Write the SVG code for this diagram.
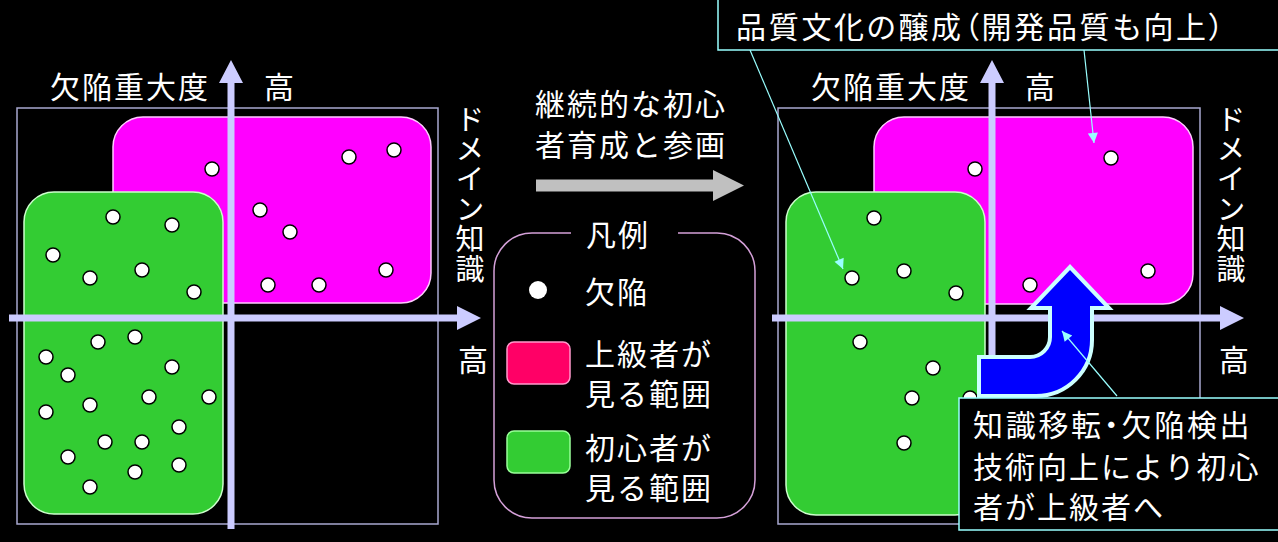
<svg xmlns="http://www.w3.org/2000/svg" width="1278" height="542" viewBox="0 0 1278 542">
<defs>
<style>
.t{font-family:"Noto Sans CJK JP","Noto Sans CJK SC",sans-serif;font-size:30px;fill:#ffffff;letter-spacing:2px}
.p{font-feature-settings:"palt" 1;letter-spacing:2.7px}
.tv{font-family:"Noto Sans CJK JP","Noto Sans CJK SC",sans-serif;font-size:29px;fill:#ffffff;writing-mode:vertical-rl;letter-spacing:1px}
.tc{font-family:"Noto Sans CJK JP","Noto Sans CJK SC",sans-serif;font-size:30px;fill:#ffffff;text-anchor:middle}
.frame{fill:none;stroke:#a8a8d0;stroke-width:1.5}
.axis{fill:#ccccff;stroke:none}
.mag{fill:#ff00ff;stroke:#ffccff;stroke-width:1.5}
.grn{fill:#33cc33;stroke:#ccffcc;stroke-width:1.5}
.dot{fill:#ffffff;stroke:#000000;stroke-width:1.5}
.call{fill:#000000;stroke:#99ffff;stroke-width:1.5}
.conn{stroke:#99ffff;stroke-width:1.2;fill:none}
</style>
<marker id="ah" viewBox="0 0 10 10" refX="10" refY="5" markerWidth="12" markerHeight="10" markerUnits="userSpaceOnUse" orient="auto">
<path d="M0,0 L10,5 L0,10 Z" fill="#99ffff"/>
</marker>
</defs>
<rect width="1278" height="542" fill="#000000"/>

<!-- LEFT PANEL -->
<g id="left-panel">
<rect class="frame" x="17" y="108" width="421" height="416"/>
<rect id="left-senior" class="mag" x="113" y="117" width="318" height="186" rx="30"/>
<rect id="left-novice" class="grn" x="24" y="192" width="199" height="322" rx="30"/>
<g id="left-defects">
<circle class="dot" cx="212" cy="169" r="7"/>
<circle class="dot" cx="349" cy="157" r="7"/>
<circle class="dot" cx="394" cy="150" r="7"/>
<circle class="dot" cx="260" cy="210" r="7"/>
<circle class="dot" cx="290" cy="232" r="7"/>
<circle class="dot" cx="386" cy="270" r="7"/>
<circle class="dot" cx="268" cy="285" r="7"/>
<circle class="dot" cx="319" cy="285" r="7"/>
<circle class="dot" cx="113" cy="217" r="7"/>
<circle class="dot" cx="172" cy="225" r="7"/>
<circle class="dot" cx="53" cy="255" r="7"/>
<circle class="dot" cx="90" cy="278" r="7"/>
<circle class="dot" cx="142" cy="270" r="7"/>
<circle class="dot" cx="194" cy="292" r="7"/>
<circle class="dot" cx="98" cy="342" r="7"/>
<circle class="dot" cx="135" cy="337" r="7"/>
<circle class="dot" cx="46" cy="357" r="7"/>
<circle class="dot" cx="68" cy="375" r="7"/>
<circle class="dot" cx="172" cy="367" r="7"/>
<circle class="dot" cx="149" cy="397" r="7"/>
<circle class="dot" cx="209" cy="397" r="7"/>
<circle class="dot" cx="90" cy="405" r="7"/>
<circle class="dot" cx="46" cy="412" r="7"/>
<circle class="dot" cx="179" cy="427" r="7"/>
<circle class="dot" cx="105" cy="442" r="7"/>
<circle class="dot" cx="142" cy="442" r="7"/>
<circle class="dot" cx="68" cy="457" r="7"/>
<circle class="dot" cx="179" cy="465" r="7"/>
<circle class="dot" cx="135" cy="472" r="7"/>
<circle class="dot" cx="90" cy="487" r="7"/>
</g>
<path class="axis" d="M227.5,529 V83 H219 L231,60 L243,83 H234.5 V529 Z"/>
<path class="axis" d="M9,314.5 H457 V306 L481,318 L457,330 V321.5 H9 Z"/>
<text class="t" x="50" y="98">欠陥重大度</text>
<text class="t" x="264" y="98">高</text>
<text class="tv" x="470" y="104">ドメイン知識</text>
<text class="tc" x="473" y="371">高</text>
</g>

<!-- MIDDLE -->
<g id="middle-label">
<text class="t" x="535" y="115">継続的な初心</text>
<text class="t" x="535" y="156">者育成と参画</text>
<path d="M536,179.5 H713 V170 L744,185.5 L713,201 V191.5 H536 Z" fill="#c0c0c0"/>
</g>

<g id="legend">
<path d="M571,233 H532 A38,38 0 0 0 494,271 V480 A38,38 0 0 0 532,518 H717 A38,38 0 0 0 755,480 V271 A38,38 0 0 0 717,233 H678" fill="none" stroke="#d4a0d8" stroke-width="1.5"/>
<text class="t" x="586" y="246">凡例</text>
<circle cx="538" cy="290" r="9" fill="#ffffff"/>
<text class="t" x="585" y="303">欠陥</text>
<rect x="507" y="342" width="63" height="42" rx="7" fill="#ff0066" stroke="#ff99cc" stroke-width="1.5"/>
<text class="t" x="585" y="365">上級者が</text>
<text class="t" x="585" y="405">見る範囲</text>
<rect x="507" y="431" width="63" height="42" rx="7" fill="#33cc33" stroke="#99ff99" stroke-width="1.5"/>
<text class="t" x="585" y="459">初心者が</text>
<text class="t" x="585" y="499">見る範囲</text>
</g>

<!-- RIGHT PANEL -->
<g id="right-panel">
<rect class="frame" x="778" y="108" width="422" height="416"/>
<rect id="right-senior" class="mag" x="874" y="117" width="319" height="187" rx="30"/>
<rect id="right-novice" class="grn" x="786" y="192" width="199" height="323" rx="30"/>
<g id="right-defects">
<circle class="dot" cx="975" cy="169" r="7"/>
<circle class="dot" cx="1111" cy="158" r="7"/>
<circle class="dot" cx="874" cy="218" r="7"/>
<circle class="dot" cx="904" cy="271" r="7"/>
<circle class="dot" cx="852" cy="278" r="7"/>
<circle class="dot" cx="956" cy="293" r="7"/>
<circle class="dot" cx="1030" cy="285" r="7"/>
<circle class="dot" cx="1148" cy="271" r="7"/>
<circle class="dot" cx="860" cy="342" r="7"/>
<circle class="dot" cx="933" cy="368" r="7"/>
<circle class="dot" cx="912" cy="398" r="7"/>
<circle class="dot" cx="970" cy="398" r="7"/>
<circle class="dot" cx="904" cy="443" r="7"/>
</g>
<path class="axis" d="M988.5,529 V83 H980 L992,60 L1004,83 H995.5 V529 Z"/>
<path class="axis" d="M772,314.5 H1220 V306 L1244,318 L1220,330 V321.5 H772 Z"/>
<text class="t" x="811" y="98">欠陥重大度</text>
<text class="t" x="1025" y="98">高</text>
<text class="tv" x="1231" y="104">ドメイン知識</text>
<text class="tc" x="1234" y="371">高</text>
</g>

<g id="transfer-arrow">
<path d="M979,357 H1030 A20,20 0 0 0 1050,337 V308 H1031 L1070,267 L1109,308 H1092 V340 A56,56 0 0 1 1036,396 H979 Z" fill="#0000ff" stroke="#ccffff" stroke-width="4" stroke-linejoin="miter"/>
</g>

<g id="callout-culture">
<rect class="call" x="718" y="-5" width="575" height="55"/>
<text class="t p" x="736" y="38">品質文化の醸成（開発品質も向上）</text>
</g>

<g id="callout-transfer">
<rect class="call" x="959" y="398" width="330" height="132" stroke="#ccffff"/>
<text class="t p" x="973" y="436">知識移転・欠陥検出</text>
<text class="t" x="973" y="478">技術向上により初心</text>
<text class="t" x="973" y="518">者が上級者へ</text>
</g>

<g id="connectors">
<line class="conn" x1="750" y1="50" x2="843" y2="269" marker-end="url(#ah)"/>
<line class="conn" x1="1084" y1="50" x2="1094" y2="143" marker-end="url(#ah)"/>
<line class="conn" x1="1117" y1="396" x2="1062" y2="331" marker-end="url(#ah)"/>
</g>
</svg>
